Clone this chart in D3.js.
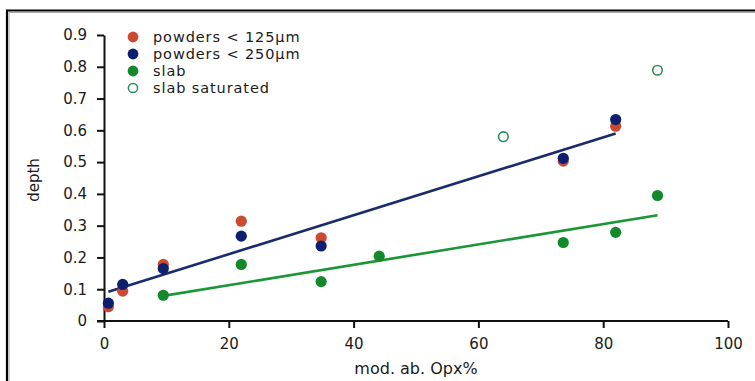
<!DOCTYPE html>
<html>
<head>
<meta charset="utf-8">
<script src="https://cdn.jsdelivr.net/npm/d3@7/dist/d3.min.js"></script>
<style>
  html, body { margin: 0; padding: 0; background: #ffffff; }
  svg { display: block; }
  text { font-family: "DejaVu Sans", sans-serif; fill: #1a1a1a; }
</style>
</head>
<body>
<script>
// Depth versus modal abundance of orthopyroxene (Opx%)
const xPowders = [0.7, 3.0, 9.5, 22.0, 34.8, 73.6, 82.0];
const depth125 = [0.045, 0.094, 0.178, 0.314, 0.262, 0.503, 0.613];
const depth250 = [0.056, 0.115, 0.165, 0.267, 0.236, 0.512, 0.634];

const xSlab = [9.5, 22.0, 34.8, 44.1, 73.6, 82.0, 88.7];
const depthSlab = [0.081, 0.178, 0.124, 0.204, 0.247, 0.279, 0.395];

const xSaturated = [64.0, 88.7];
const depthSaturated = [0.58, 0.789];

// Linear trend lines (end points)
const fitPowdersX = [0.7, 82.0];
const fitPowdersY = [0.092, 0.59];
const fitSlabX = [9.5, 88.7];
const fitSlabY = [0.079, 0.333];

const xTicks = [0, 20, 40, 60, 80, 100];
const yTicks = [0, 0.1, 0.2, 0.3, 0.4, 0.5, 0.6, 0.7, 0.8, 0.9];

const legendLabels = ["powders < 125\u00b5m", "powders < 250\u00b5m", "slab", "slab saturated"];

const W = 755, H = 381;
const colRed = "#cc4a32", colBlue = "#0d1f6d", colGreen = "#14892c", colOpen = "#2e8a5c";
const colBlueLine = "#1a2b6c", colGreenLine = "#1b9636";

const svg = d3.select("body").append("svg").attr("width", W).attr("height", H);

// Frame around the figure (top and left edges)
svg.append("path").attr("d", `M7,${H} V10.5 H${W}`)
  .attr("fill", "none").attr("stroke", "#000").attr("stroke-width", 2.2);
svg.append("path").attr("d", `M9,${H} V12.5 H${W}`)
  .attr("fill", "none").attr("stroke", "#aaa").attr("stroke-width", 1);

const x = d3.scaleLinear().domain([0, 100]).range([104, 728]);
const y = d3.scaleLinear().domain([0, 0.9]).range([321, 35]);

const fmtY = d => d === 0 ? "0" : d3.format(".1f")(d);

// Axes
const gx = svg.append("g").attr("transform", `translate(0,${y(0)})`)
  .call(d3.axisBottom(x).tickValues(xTicks).tickSize(7).tickPadding(10).tickSizeOuter(0));
const gy = svg.append("g").attr("transform", `translate(${x(0)},0)`)
  .call(d3.axisLeft(y).tickValues(yTicks).tickFormat(fmtY).tickSize(7).tickPadding(10).tickSizeOuter(0));

[gx, gy].forEach(g => {
  g.select(".domain").attr("stroke", "#111").attr("stroke-width", 2);
  g.selectAll(".tick line").attr("stroke", "#111").attr("stroke-width", 2);
  g.selectAll(".tick text").attr("font-size", 15).attr("fill", "#1a1a1a")
    .attr("font-family", "DejaVu Sans, sans-serif");
});
// x axis line reaches slightly left of the origin
gx.select(".domain").attr("d", `M${x(0) - 7},0H${x(100)}`);

// Axis titles
svg.append("text").attr("x", 416).attr("y", 374).attr("text-anchor", "middle")
  .attr("font-size", 16).text("mod. ab. Opx%");
svg.append("text").attr("transform", `translate(39,180) rotate(-90)`)
  .attr("text-anchor", "middle").attr("font-size", 15).text("depth");

// Trend lines
const line = d3.line().x(d => x(d[0])).y(d => y(d[1]));
svg.append("path").datum(d3.zip(fitPowdersX, fitPowdersY)).attr("d", line)
  .attr("fill", "none").attr("stroke", colBlueLine).attr("stroke-width", 2.6);
svg.append("path").datum(d3.zip(fitSlabX, fitSlabY)).attr("d", line)
  .attr("fill", "none").attr("stroke", colGreenLine).attr("stroke-width", 2.6);

// Points
const R = 5.6;
function dots(xs, ys, fill, stroke) {
  svg.append("g").selectAll("circle").data(d3.zip(xs, ys)).join("circle")
    .attr("cx", d => x(d[0])).attr("cy", d => y(d[1])).attr("r", stroke ? 4.8 : R)
    .attr("fill", fill).attr("stroke", stroke || "none").attr("stroke-width", stroke ? 1.6 : 0);
}
dots(xPowders, depth125, colRed);
dots(xPowders, depth250, colBlue);
dots(xSlab, depthSlab, colGreen);
dots(xSaturated, depthSaturated, "none", colOpen);

// Legend
const legendY = [37, 54, 71, 88];
const legendStyle = [
  { fill: colRed }, { fill: colBlue }, { fill: colGreen }, { fill: "none", stroke: colOpen }
];
legendLabels.forEach((lab, i) => {
  const s = legendStyle[i];
  svg.append("circle").attr("cx", 133).attr("cy", legendY[i])
    .attr("r", s.stroke ? 4.6 : 5.4).attr("fill", s.fill)
    .attr("stroke", s.stroke || "none").attr("stroke-width", s.stroke ? 1.5 : 0);
  svg.append("text").attr("x", 153).attr("y", legendY[i] + 5)
    .attr("font-size", 14.5).attr("letter-spacing", 0.9).text(lab);
});
</script>
</body>
</html>
